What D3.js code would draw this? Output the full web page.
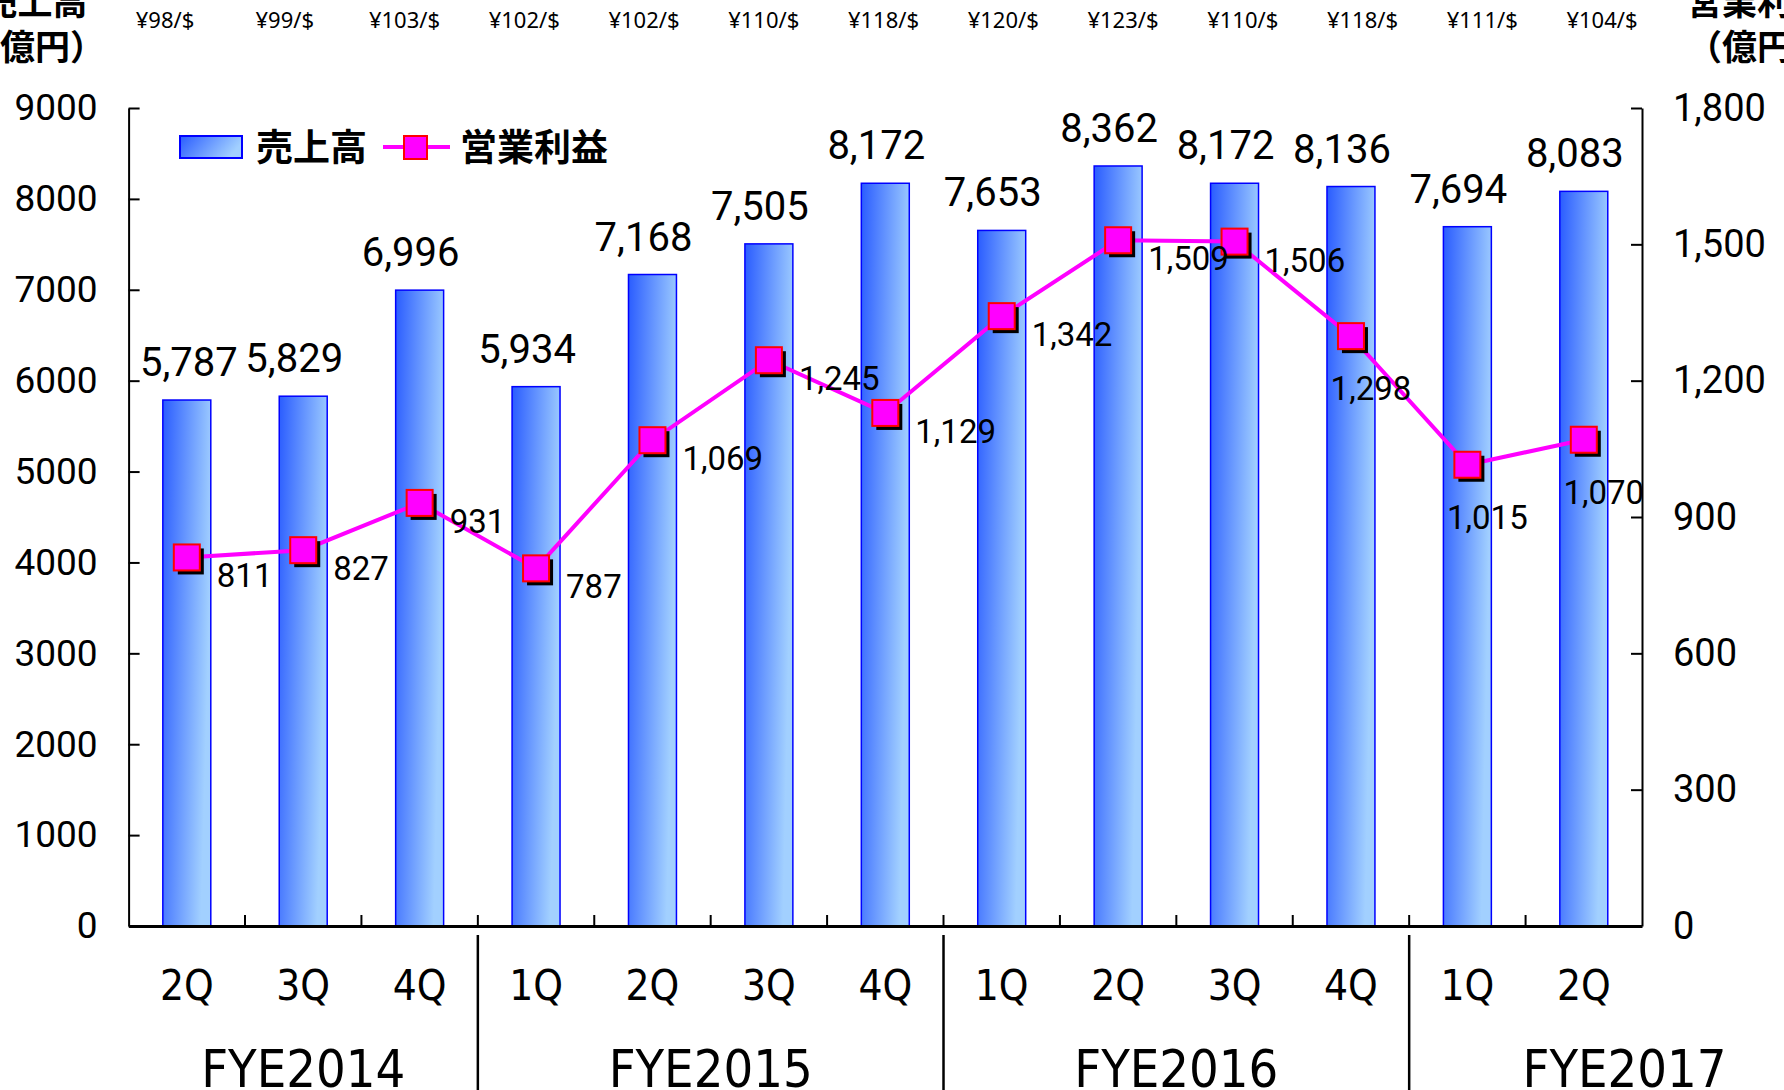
<!DOCTYPE html>
<html>
<head>
<meta charset="utf-8">
<script src="https://cdn.jsdelivr.net/npm/d3@7"></script>
<style>
  body { margin: 0; background: #fff; }
  svg { display: block; }
</style>
</head>
<body>
<div id="chart"></div>
<script>
// quarterly sales and operating profit (億円), FYE2014 2Q - FYE2017 2Q
var quarters = ["2Q", "3Q", "4Q", "1Q", "2Q", "3Q", "4Q", "1Q", "2Q", "3Q", "4Q", "1Q", "2Q"];
var fiscalYear = ["FYE2014", "FYE2014", "FYE2014",
                  "FYE2015", "FYE2015", "FYE2015", "FYE2015",
                  "FYE2016", "FYE2016", "FYE2016", "FYE2016",
                  "FYE2017", "FYE2017"];
var sales = [5787, 5829, 6996, 5934, 7168, 7505, 8172, 7653, 8362, 8172, 8136, 7694, 8083];
var opProfit = [811, 827, 931, 787, 1069, 1245, 1129, 1342, 1509, 1506, 1298, 1015, 1070];
var fxRates = ["¥98/$", "¥99/$", "¥103/$", "¥102/$", "¥102/$", "¥110/$", "¥118/$",
               "¥120/$", "¥123/$", "¥110/$", "¥118/$", "¥111/$", "¥104/$"];
var salesTicks = [0, 1000, 2000, 3000, 4000, 5000, 6000, 7000, 8000, 9000];
var profitTicks = [0, 300, 600, 900, 1200, 1500, 1800];
var fyeNames = ["FYE2014", "FYE2015", "FYE2016", "FYE2017"];

var W = 1784, H = 1090;
var plotLeft = 128.6, plotRight = 1642, plotTop = 108, base = 926;

var numFont = "Roboto, 'Noto Sans', sans-serif";
var narrowFont = "'Liberation Sans Narrow', 'DejaVu Sans Condensed', sans-serif";
var jpFont = "'Noto Sans CJK JP', sans-serif";

var keys = quarters.map(function(q, i) { return fiscalYear[i] + " " + q; });

var svg = d3.select("#chart").append("svg")
  .attr("width", W)
  .attr("height", H);

var defs = svg.append("defs");
var grad = defs.append("linearGradient")
  .attr("id", "barGrad")
  .attr("x1", 0).attr("y1", 0).attr("x2", 1).attr("y2", 0.3);
grad.append("stop").attr("offset", "0%").attr("stop-color", "#2a5cff");
grad.append("stop").attr("offset", "100%").attr("stop-color", "#a2d0ff");

var x = d3.scaleBand()
  .domain(keys)
  .range([plotLeft, plotRight])
  .paddingInner(0.588)
  .paddingOuter(0.294);

var y = d3.scaleLinear().domain([0, 9000]).range([base, plotTop]);
var y2 = d3.scaleLinear().domain([0, 1800]).range([base, plotTop]);

var fx = d3.scalePoint().domain(keys).range([165, 1602]);

var step = x.step();
function boundary(i) { return plotLeft + i * step; }
function cx(k) { return x(k) + x.bandwidth() / 2; }

// exchange rates on top
svg.append("g").selectAll("text")
  .data(keys)
  .enter().append("text")
  .attr("x", function(d) { return fx(d); })
  .attr("y", 28)
  .attr("text-anchor", "middle")
  .style("font-family", "'Noto Sans', sans-serif")
  .style("font-size", "22px")
  .text(function(d, i) { return fxRates[i]; });

// axis titles
var titles = [
  {cx: 35, lines: ["売上高", "（億円）"]},
  {cx: 1757, lines: ["営業利益", "（億円）"]}
];
titles.forEach(function(t) {
  t.lines.forEach(function(s, j) {
    svg.append("text")
      .attr("x", t.cx)
      .attr("y", 2 + j * 45)
      .attr("dy", "0.36em")
      .attr("text-anchor", "middle")
      .style("font-family", jpFont)
      .style("font-weight", "700")
      .style("font-size", "35px")
      .text(s);
  });
});

// bars
svg.append("g").selectAll("rect")
  .data(keys)
  .enter().append("rect")
  .attr("x", function(d) { return x(d); })
  .attr("y", function(d, i) { return y(sales[i]); })
  .attr("width", x.bandwidth())
  .attr("height", function(d, i) { return base - y(sales[i]); })
  .attr("fill", "url(#barGrad)")
  .attr("stroke", "#0000ff")
  .attr("stroke-width", 1.5);

// sales labels
svg.append("g").selectAll("text")
  .data(keys)
  .enter().append("text")
  .attr("x", function(d, i) { return cx(d) + (i == 0 ? 2 : -9); })
  .attr("y", function(d, i) { return y(sales[i]) - 24; })
  .attr("text-anchor", "middle")
  .style("font-family", numFont)
  .style("font-size", "40px")
  .text(function(d, i) { return d3.format(",")(sales[i]); });

// left axis
svg.append("g")
  .attr("transform", "translate(" + plotLeft + ",0)")
  .call(d3.axisLeft(y).tickValues(salesTicks).tickFormat(d3.format("d"))
    .tickSizeInner(-11).tickSizeOuter(0).tickPadding(31))
  .call(function(g) {
    g.select(".domain").attr("stroke-width", 2);
    g.selectAll(".tick line").attr("stroke-width", 2);
    g.selectAll("text").style("font-family", numFont).style("font-size", "37px");
  });

// right axis
svg.append("g")
  .attr("transform", "translate(" + plotRight + ",0)")
  .call(d3.axisRight(y2).tickValues(profitTicks).tickFormat(d3.format(","))
    .tickSizeInner(-11).tickSizeOuter(0).tickPadding(31))
  .call(function(g) {
    g.select(".domain").attr("stroke-width", 2);
    g.selectAll(".tick line").attr("stroke-width", 2);
    g.selectAll("text").style("font-family", numFont).style("font-size", "38px");
  });

// bottom axis with quarter labels
svg.append("g")
  .attr("transform", "translate(0," + base + ")")
  .call(d3.axisBottom(x).tickSize(0).tickPadding(44)
    .tickFormat(function(d, i) { return quarters[i]; }))
  .call(function(g) {
    g.select(".domain").attr("stroke-width", 3);
    g.selectAll("text").style("font-family", narrowFont).style("font-size", "42px");
  });

// separators between quarters
svg.append("g").selectAll("line")
  .data(d3.range(1, keys.length))
  .enter().append("line")
  .attr("x1", function(i) { return boundary(i); })
  .attr("x2", function(i) { return boundary(i); })
  .attr("y1", base)
  .attr("y2", base - 11)
  .attr("stroke", "#000")
  .attr("stroke-width", 2);

// fiscal year groups
var groups = fyeNames.map(function(f) {
  var idx = d3.range(keys.length).filter(function(i) { return fiscalYear[i] == f; });
  return {name: f, first: idx[0], last: idx[idx.length - 1]};
});

svg.append("g").selectAll("line")
  .data(groups.slice(1))
  .enter().append("line")
  .attr("x1", function(g) { return boundary(g.first); })
  .attr("x2", function(g) { return boundary(g.first); })
  .attr("y1", base + 9)
  .attr("y2", H)
  .attr("stroke", "#000")
  .attr("stroke-width", 2.5);

svg.append("g").selectAll("text")
  .data(groups)
  .enter().append("text")
  .attr("x", function(g, i) {
    // last year is still open, its label sits further right
    var n = g.last - g.first + 1;
    if (i == groups.length - 1) n = 3.7;
    return boundary(g.first) + n * step / 2;
  })
  .attr("y", 1087)
  .attr("text-anchor", "middle")
  .style("font-family", narrowFont)
  .style("font-size", "52px")
  .text(function(g) { return g.name; });

// operating profit line
var line = d3.line()
  .x(function(d) { return cx(d); })
  .y(function(d, i) { return y2(opProfit[i]); });

svg.append("path")
  .datum(keys)
  .attr("d", line)
  .attr("fill", "none")
  .attr("stroke", "#ff00ff")
  .attr("stroke-width", 4);

var m = 26;
svg.append("g").selectAll("rect")
  .data(keys)
  .enter().append("rect")
  .attr("x", function(d) { return cx(d) - m / 2 + 4; })
  .attr("y", function(d, i) { return y2(opProfit[i]) - m / 2 + 4; })
  .attr("width", m)
  .attr("height", m)
  .attr("fill", "#000");

svg.append("g").selectAll("rect")
  .data(keys)
  .enter().append("rect")
  .attr("x", function(d) { return cx(d) - m / 2; })
  .attr("y", function(d, i) { return y2(opProfit[i]) - m / 2; })
  .attr("width", m)
  .attr("height", m)
  .attr("fill", "#ff00ff")
  .attr("stroke", "#ff0000")
  .attr("stroke-width", 2);

// profit labels: right of marker, last three go underneath
svg.append("g").selectAll("text")
  .data(keys)
  .enter().append("text")
  .attr("x", function(d, i) { return i < 10 ? cx(d) + 30 : cx(d) + 20; })
  .attr("y", function(d, i) { return y2(opProfit[i]) + (i < 10 ? 30 : 64); })
  .attr("text-anchor", function(d, i) { return i < 10 ? "start" : "middle"; })
  .style("font-family", numFont)
  .style("font-size", "33px")
  .text(function(d, i) { return d3.format(",")(opProfit[i]); });

// legend
var legend = svg.append("g");
legend.append("rect")
  .attr("x", 180).attr("y", 136)
  .attr("width", 62).attr("height", 22)
  .attr("fill", "url(#barGrad)")
  .attr("stroke", "#0000ff")
  .attr("stroke-width", 2);
legend.append("text")
  .attr("x", 256).attr("y", 148).attr("dy", "0.36em")
  .style("font-family", jpFont).style("font-weight", "700").style("font-size", "37px")
  .text("売上高");
legend.append("line")
  .attr("x1", 383).attr("x2", 450).attr("y1", 147).attr("y2", 147)
  .attr("stroke", "#ff00ff").attr("stroke-width", 4);
legend.append("rect")
  .attr("x", 404).attr("y", 136).attr("width", 23).attr("height", 23)
  .attr("fill", "#ff00ff").attr("stroke", "#ff0000").attr("stroke-width", 2);
legend.append("text")
  .attr("x", 460).attr("y", 148).attr("dy", "0.36em")
  .style("font-family", jpFont).style("font-weight", "700").style("font-size", "37px")
  .text("営業利益");
</script>
</body>
</html>
